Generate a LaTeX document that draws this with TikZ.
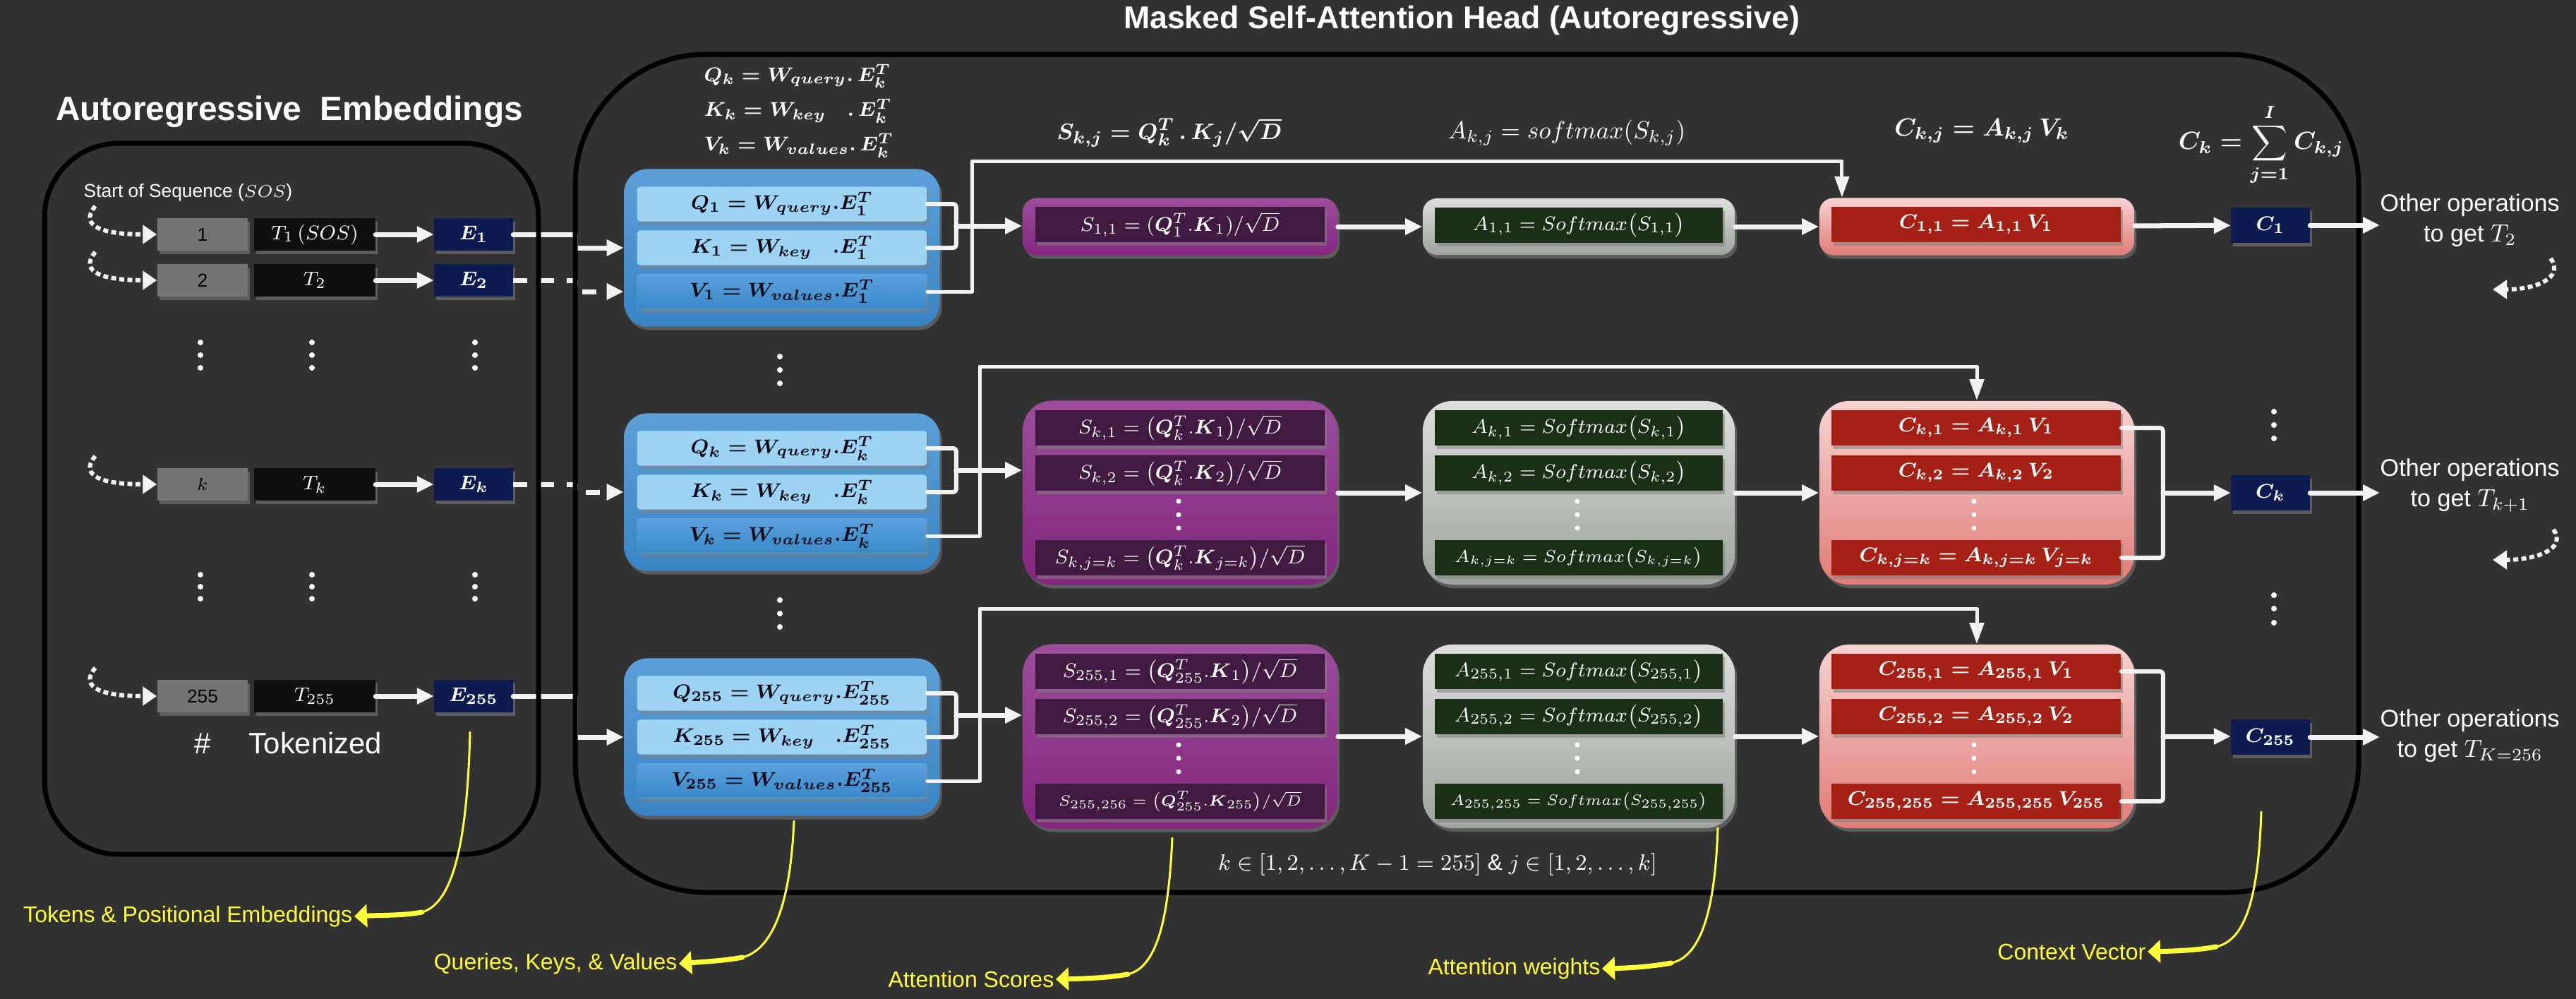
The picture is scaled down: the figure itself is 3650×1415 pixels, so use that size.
\documentclass[tikz,border=0pt]{standalone}
\usepackage{fontspec}
\setmainfont{Liberation Sans}
\usepackage{amsmath}
\usetikzlibrary{arrows.meta,positioning,shadows,calc}

\definecolor{bgdark}{HTML}{323232}
\definecolor{numgray}{HTML}{747474}
\definecolor{tokblack}{HTML}{0F0F0F}
\definecolor{embnavy}{HTML}{0C1C50}
\definecolor{flowwhite}{HTML}{F2F2F2}
\definecolor{qkvtop}{HTML}{5CA0D8}
\definecolor{qkvbot}{HTML}{3A84C4}
\definecolor{qklight}{HTML}{9DD4F3}
\definecolor{qkvtext}{HTML}{0A0A18}
\definecolor{vtop}{HTML}{5AA2DE}
\definecolor{vbot}{HTML}{3C88C8}
\definecolor{scoretop}{HTML}{9B4E9A}
\definecolor{scorebot}{HTML}{84257F}
\definecolor{scorein}{HTML}{401A41}
\definecolor{weighttop}{HTML}{DDDFDC}
\definecolor{weightbot}{HTML}{9EA39D}
\definecolor{weightin}{HTML}{1B2E16}
\definecolor{ctxtop}{HTML}{F7D3D2}
\definecolor{ctxbot}{HTML}{E07C77}
\definecolor{ctxin}{HTML}{A52116}
\definecolor{callyellow}{HTML}{FFFF3C}

\begin{document}
\begin{tikzpicture}[x=0.01cm, y=-0.01cm, line cap=round, line join=round,
    every node/.style={inner sep=0pt, text=white},
    panel/.style={draw=black, line width=0.07cm},
    boxshadow/.style={drop shadow={shadow xshift=0.03cm, shadow yshift=-0.05cm, opacity=0.55}},
    numbox/.style={boxshadow, fill=numgray, text=black, minimum width=1.28cm, minimum height=0.45cm, font=\fontsize{7.5}{9}\selectfont},
    tokbox/.style={boxshadow, fill=tokblack, minimum width=1.71cm, minimum height=0.45cm, font=\fontsize{8.5}{10}\selectfont},
    embbox/.style={boxshadow, fill=embnavy, minimum width=1.11cm, minimum height=0.45cm, font=\boldmath\fontsize{8.5}{10}\selectfont},
    ctxvec/.style={embbox, minimum height=0.49cm},
    qkvblock/.style={boxshadow, rounded corners=0.33cm, top color=qkvtop, bottom color=qkvbot, minimum width=4.47cm, minimum height=2.23cm},
    qkrow/.style={boxshadow, fill=qklight, rounded corners=0.04cm, minimum width=4.1cm, minimum height=0.49cm, text=qkvtext, font=\boldmath\fontsize{8.3}{10}\selectfont},
    vrow/.style={qkrow, top color=vtop, bottom color=vbot},
    scorebox/.style={boxshadow, rounded corners=0.2cm, top color=scoretop, bottom color=scorebot, minimum width=4.46cm},
    scorerow/.style={boxshadow, fill=scorein, minimum width=4.09cm, minimum height=0.5cm, font=\fontsize{8}{10}\selectfont},
    weightbox/.style={boxshadow, rounded corners=0.2cm, top color=weighttop, bottom color=weightbot, minimum width=4.42cm},
    weightrow/.style={boxshadow, fill=weightin, minimum width=4.08cm, minimum height=0.5cm, font=\fontsize{8}{10}\selectfont},
    ctxbox/.style={boxshadow, rounded corners=0.2cm, top color=ctxtop, bottom color=ctxbot, minimum width=4.46cm},
    ctxrow/.style={boxshadow, fill=ctxin, minimum width=4.1cm, minimum height=0.5cm, font=\boldmath\fontsize{8}{10}\selectfont},
    flow/.style={draw=flowwhite, line width=0.07cm, -{Triangle[length=0.24cm, width=0.22cm]}},
    dashflow/.style={flow, dash pattern=on 0.2cm off 0.18cm, line cap=butt},
    loopflow/.style={draw=flowwhite, line width=0.06cm, dash pattern=on 0.07cm off 0.045cm, line cap=butt, -{Triangle[length=0.2cm, width=0.26cm]}},
    bracket/.style={draw=flowwhite, line width=0.06cm, rounded corners=0.04cm},
    vflow/.style={draw=flowwhite, line width=0.05cm, -{Triangle[length=0.3cm, width=0.2cm]}},
    calloutline/.style={draw=callyellow, line width=0.03cm},
    callouttip/.style={draw=callyellow, line width=0.07cm, -{Triangle[length=0.18cm, width=0.32cm]}},
    calllabel/.style={text=callyellow, anchor=east, inner sep=0.02cm, font=\fontsize{9.1}{11}\selectfont},
    opslabel/.style={align=center, anchor=west, font=\fontsize{9.7}{12.2}\selectfont}]

  \fill[bgdark] (0,0) rectangle (3650,1415);
  \useasboundingbox (0,0) rectangle (3650,1415);

  % tokens and embeddings
  \node[font=\bfseries\fontsize{13.6}{16}\selectfont] (embtitle) at (410,158) {Autoregressive\ \ Embeddings};
  \node[anchor=west, font=\fontsize{7.5}{9}\selectfont] (soslabel) at (118,273) {Start of Sequence ($SOS$)};
  \node[numbox] (num1) at (287,332) {1};
  \node[tokbox] (tok1) at (446,332) {$T_1\,(SOS)$};
  \node[embbox] (emb1) at (671,332) {$E_1$};
  \node[numbox] (num2) at (287,397) {2};
  \node[tokbox] (tok2) at (446,397) {$T_2$};
  \node[embbox] (emb2) at (671,397) {$E_2$};
  \node[numbox] (numk) at (287,686) {$k$};
  \node[tokbox] (tokk) at (446,686) {$T_k$};
  \node[embbox] (embk) at (671,686) {$E_k$};
  \node[numbox] (num255) at (287,986) {255};
  \node[tokbox] (tok255) at (446,986) {$T_{255}$};
  \node[embbox] (emb255) at (671,986) {$E_{255}$};
  \node[font=\fontsize{11.9}{14}\selectfont] (hashlabel) at (287,1053) {\#};
  \node[font=\fontsize{11.9}{14}\selectfont] (toklabel) at (447,1053) {Tokenized};

  \coordinate (loop1) at (135,292);
  \coordinate (loop2) at (135,357);
  \coordinate (loopk) at (135,646);
  \coordinate (loop255) at (135,946);
  \draw[loopflow] (loop1) .. controls (110,322) and (150,332) .. (num1.west);
  \draw[loopflow] (loop2) .. controls (110,387) and (150,397) .. (num2.west);
  \draw[loopflow] (loopk) .. controls (110,676) and (150,686) .. (numk.west);
  \draw[loopflow] (loop255) .. controls (110,976) and (150,986) .. (num255.west);

  \draw[flow] (tok1) -- (emb1);
  \draw[flow] (tok2) -- (emb2);
  \draw[flow] (tokk) -- (embk);
  \draw[flow] (tok255) -- (emb255);

  \fill[white] (284,485) circle (4) (284,503) circle (4) (284,521) circle (4);
  \fill[white] (442,485) circle (4) (442,503) circle (4) (442,521) circle (4);
  \fill[white] (673,485) circle (4) (673,503) circle (4) (673,521) circle (4);
  \fill[white] (284,814) circle (4) (284,831) circle (4) (284,848) circle (4);
  \fill[white] (442,814) circle (4) (442,831) circle (4) (442,848) circle (4);
  \fill[white] (673,814) circle (4) (673,831) circle (4) (673,848) circle (4);

  % queries, keys and values
  \node[anchor=west, align=left, font=\boldmath\fontsize{8.5}{14}\selectfont] (qkvhead) at (997,157)
    {$Q_k = W_{query}.\,E_k^T$\\ $K_k = W_{key}\quad.\,E_k^T$\\ $V_k = W_{values}.\,E_k^T$};

  \node[qkvblock] (qkv1) at (1108,351) {};
  \node[qkrow] (q1) at (1108,289) {$Q_1 = W_{query}.E_1^T$};
  \node[qkrow] (k1) at (1108,351) {$K_1 = W_{key}\quad.E_1^T$};
  \node[vrow] (v1) at (1108,413) {$V_1 = W_{values}.E_1^T$};

  \node[qkvblock] (qkvk) at (1108,697) {};
  \node[qkrow] (qk) at (1108,635) {$Q_k = W_{query}.E_k^T$};
  \node[qkrow] (kk) at (1108,697) {$K_k = W_{key}\quad.E_k^T$};
  \node[vrow] (vk) at (1108,759) {$V_k = W_{values}.E_k^T$};

  \node[qkvblock] (qkv255) at (1108,1044) {};
  \node[qkrow] (q255) at (1108,982) {$Q_{255} = W_{query}.E_{255}^T$};
  \node[qkrow] (k255) at (1108,1044) {$K_{255} = W_{key}\quad.E_{255}^T$};
  \node[vrow] (v255) at (1108,1106) {$V_{255} = W_{values}.E_{255}^T$};

  \fill[white] (1105,505) circle (4) (1105,524) circle (4) (1105,543) circle (4);
  \fill[white] (1105,850) circle (4) (1105,869) circle (4) (1105,888) circle (4);

  \draw[flow] (emb1.east) -| (815,351) -- (qkv1.west);
  \draw[dashflow] (emb2.east) -| (815,413) -- (qkv1.west |- v1);
  \draw[dashflow] (embk.east) -| (815,697) -- (qkvk.west);
  \draw[flow] (emb255.east) -| (815,1044) -- (qkv255.west);

  % frames
  \draw[panel, rounded corners=1.05cm] (63,203) rectangle (763,1210);
  \draw[panel, rounded corners=1.85cm] (815,77) rectangle (3342,1264);
  \node[font=\bfseries\fontsize{12.7}{15}\selectfont] (headtitle) at (2071,29) {Masked Self-Attention Head (Autoregressive)};

  % attention scores
  \node[font=\boldmath\fontsize{9.5}{11}\selectfont] (scorehead) at (1657,188) {$S_{k,j} = Q_k^T\,.\,K_j/\sqrt{D}$};
  \node[scorebox, minimum height=0.81cm] (score1) at (1672,321) {};
  \node[scorerow] (s11) at (1672,318) {$S_{1,1} = (\boldsymbol{Q}_1^T.\boldsymbol{K}_1)/\sqrt{D}$};

  \node[scorebox, minimum height=2.61cm, rounded corners=0.42cm] (scorek) at (1672,698) {};
  \node[scorerow] (sk1) at (1672,606) {$S_{k,1} = \big(\boldsymbol{Q}_k^T.\boldsymbol{K}_1\big)/\sqrt{D}$};
  \node[scorerow] (sk2) at (1672,670) {$S_{k,2} = \big(\boldsymbol{Q}_k^T.\boldsymbol{K}_2\big)/\sqrt{D}$};
  \node[scorerow] (skk) at (1672,790) {$S_{k,j=k} = \big(\boldsymbol{Q}_k^T.\boldsymbol{K}_{j=k}\big)/\sqrt{D}$};
  \fill[white] (1670,710) circle (3.5) (1670,729) circle (3.5) (1670,748) circle (3.5);

  \node[scorebox, minimum height=2.61cm, rounded corners=0.42cm] (score255) at (1672,1043) {};
  \node[scorerow] (s2551) at (1672,951) {$S_{255,1} = \big(\boldsymbol{Q}_{255}^T.\boldsymbol{K}_1\big)/\sqrt{D}$};
  \node[scorerow] (s2552) at (1672,1015) {$S_{255,2} = \big(\boldsymbol{Q}_{255}^T.\boldsymbol{K}_2\big)/\sqrt{D}$};
  \node[scorerow, font=\fontsize{6.5}{8}\selectfont] (s255256) at (1672,1135) {$S_{255,256} = \big(\boldsymbol{Q}_{255}^T.\boldsymbol{K}_{255}\big)/\sqrt{D}$};
  \fill[white] (1670,1055) circle (3.5) (1670,1074) circle (3.5) (1670,1093) circle (3.5);

  \draw[bracket] (q1.east) -- ++(41,0) |- (k1.east);
  \draw[bracket] (qk.east) -- ++(41,0) |- (kk.east);
  \draw[bracket] (q255.east) -- ++(41,0) |- (k255.east);
  \coordinate (qkmid1) at ($(q1.east)!0.5!(k1.east)+(41,0)$);
  \coordinate (qkmidk) at ($(qk.east)!0.5!(kk.east)+(41,0)$);
  \coordinate (qkmid255) at ($(q255.east)!0.5!(k255.east)+(41,0)$);
  \draw[flow] (qkmid1) -- (qkmid1 -| score1.west);
  \draw[flow] (qkmidk) -- (qkmidk -| scorek.west);
  \draw[flow] (qkmid255) -- (qkmid255 -| score255.west);

  % attention weights
  \node[font=\fontsize{10}{12}\selectfont] (weighthead) at (2220,188) {$A_{k,j} = softmax(S_{k,j})$};
  \node[weightbox, minimum height=0.8cm] (weight1) at (2237,321) {};
  \node[weightrow] (a11) at (2237,319) {$A_{1,1} = Softmax\big(S_{1,1}\big)$};

  \node[weightbox, minimum height=2.6cm, rounded corners=0.42cm] (weightk) at (2237,698) {};
  \node[weightrow] (ak1) at (2237,606) {$A_{k,1} = Softmax\big(S_{k,1}\big)$};
  \node[weightrow] (ak2) at (2237,670) {$A_{k,2} = Softmax\big(S_{k,2}\big)$};
  \node[weightrow, font=\fontsize{7}{8}\selectfont] (akk) at (2237,790) {$A_{k,j=k} = Softmax\big(S_{k,j=k}\big)$};
  \fill[white] (2235,710) circle (3.5) (2235,729) circle (3.5) (2235,748) circle (3.5);

  \node[weightbox, minimum height=2.6cm, rounded corners=0.42cm] (weight255) at (2237,1043) {};
  \node[weightrow] (a2551) at (2237,951) {$A_{255,1} = Softmax\big(S_{255,1}\big)$};
  \node[weightrow] (a2552) at (2237,1015) {$A_{255,2} = Softmax\big(S_{255,2}\big)$};
  \node[weightrow, font=\fontsize{6}{7}\selectfont] (a255255) at (2237,1135) {$A_{255,255} = Softmax\big(S_{255,255}\big)$};
  \fill[white] (2235,1055) circle (3.5) (2235,1074) circle (3.5) (2235,1093) circle (3.5);

  \draw[flow] (score1) -- (weight1);
  \draw[flow] (scorek) -- (weightk);
  \draw[flow] (score255) -- (weight255);

  % context
  \node[font=\boldmath\fontsize{10}{12}\selectfont] (ctxhead) at (2808,185) {$C_{k,j} = A_{k,j}\,V_k$};
  \node[font=\boldmath\fontsize{10}{12}\selectfont] (sumhead) at (3204,205) {$\displaystyle C_k = \sum_{j=1}^{I} C_{k,j}$};
  \node[ctxbox, minimum height=0.81cm] (ctx1) at (2801,321) {};
  \node[ctxrow] (c11) at (2800,318) {$C_{1,1} = A_{1,1}\,V_1$};

  \node[ctxbox, minimum height=2.6cm, rounded corners=0.42cm] (ctxk) at (2801,698) {};
  \node[ctxrow] (ck1) at (2800,606) {$C_{k,1} = A_{k,1}\,V_1$};
  \node[ctxrow] (ck2) at (2800,670) {$C_{k,2} = A_{k,2}\,V_2$};
  \node[ctxrow] (ckk) at (2800,790) {$C_{k,j=k} = A_{k,j=k}\,V_{j=k}$};
  \fill[white] (2797,710) circle (3.5) (2797,729) circle (3.5) (2797,748) circle (3.5);

  \node[ctxbox, minimum height=2.6cm, rounded corners=0.42cm] (ctx255) at (2801,1043) {};
  \node[ctxrow] (c2551) at (2800,951) {$C_{255,1} = A_{255,1}\,V_1$};
  \node[ctxrow] (c2552) at (2800,1015) {$C_{255,2} = A_{255,2}\,V_2$};
  \node[ctxrow] (c255255) at (2800,1135) {$C_{255,255} = A_{255,255}\,V_{255}$};
  \fill[white] (2797,1055) circle (3.5) (2797,1074) circle (3.5) (2797,1093) circle (3.5);

  \draw[flow] (weight1) -- (ctx1);
  \draw[flow] (weightk) -- (ctxk);
  \draw[flow] (weight255) -- (ctx255);

  \draw[vflow] (v1.east) -| (1377,228) -| ([xshift=-1.91cm]ctx1.north);
  \draw[vflow] (vk.east) -| (1388,519) -| (ctxk.north);
  \draw[vflow] (v255.east) -| (1388,862) -| (ctx255.north);

  \node[ctxvec] (cv1) at (3217,319) {$C_1$};
  \node[ctxvec] (cvk) at (3217,698) {$C_k$};
  \node[ctxvec] (cv255) at (3217,1044) {$C_{255}$};
  \fill[white] (3222,583) circle (4) (3222,602) circle (4) (3222,621) circle (4);
  \fill[white] (3222,843) circle (4) (3222,862) circle (4) (3222,882) circle (4);

  \draw[flow] (ctx1) -- (cv1);
  \draw[bracket] (ck1.east) -- ++(59,0) |- (ckk.east);
  \draw[bracket] (c2551.east) -- ++(59,0) |- (c255255.east);
  \coordinate (cmidk) at ($(ck1.east)!0.5!(ckk.east)+(59,0)$);
  \coordinate (cmid255) at ($(c2551.east)!0.5!(c255255.east)+(59,0)$);
  \draw[flow] (cmidk) -- (cmidk -| cvk.west);
  \draw[flow] (cmid255) -- (cmid255 -| cv255.west);

  % next steps
  \node[opslabel] (ops1) at (3372,312) {Other operations\\to get $T_2$};
  \node[opslabel] (opsk) at (3372,688) {Other operations\\to get $T_{k+1}$};
  \node[opslabel] (ops255) at (3372,1042) {Other operations\\to get $T_{K=256}$};
  \draw[flow] (cv1) -- (cv1 -| ops1.west);
  \draw[flow] (cvk) -- (cvk -| opsk.west);
  \draw[flow] (cv255) -- (cv255 -| ops255.west);
  \coordinate (back1) at (3614,366);
  \coordinate (backk) at (3618,750);
  \draw[loopflow] (back1) .. controls (3634,394) and (3592,410) .. (3532,410);
  \draw[loopflow] (backk) .. controls (3638,778) and (3592,793) .. (3532,793);

  \node[font=\fontsize{9}{11}\selectfont] (rangelabel) at (2037,1225) {$k \in [1,2,\dots,K-1=255]\ \&\ j \in [1,2,\dots,k]$};

  % callouts
  \node[calllabel] (lbltok) at (502,1298) {Tokens \& Positional Embeddings};
  \node[calllabel] (lblqkv) at (962,1365) {Queries, Keys, \& Values};
  \node[calllabel] (lblscore) at (1496,1387) {Attention Scores};
  \node[calllabel] (lblweight) at (2270,1372) {Attention weights};
  \node[calllabel] (lblctx) at (3043,1348) {Context Vector};
  \coordinate (tokfoot) at (666,1037);
  \coordinate (qkvfoot) at (1125,1163);
  \coordinate (scorefoot) at (1661,1187);
  \coordinate (weightfoot) at (2434,1173);
  \coordinate (ctxfoot) at (3204,1150);
  \coordinate (tokbend) at (598,1292);
  \coordinate (qkvbend) at (1052,1356);
  \coordinate (scorebend) at (1598,1380);
  \coordinate (weightbend) at (2368,1364);
  \coordinate (ctxbend) at (3140,1341);
  \draw[calloutline] (tokfoot) .. controls (662,1200) and (640,1280) .. (tokbend);
  \draw[calloutline] (qkvfoot) .. controls (1120,1280) and (1095,1345) .. (qkvbend);
  \draw[calloutline] (scorefoot) .. controls (1656,1300) and (1640,1370) .. (scorebend);
  \draw[calloutline] (weightfoot) .. controls (2430,1290) and (2410,1355) .. (weightbend);
  \draw[calloutline] (ctxfoot) .. controls (3200,1270) and (3182,1332) .. (ctxbend);
  \draw[callouttip] (tokbend) .. controls (570,1297) and (545,1296) .. (lbltok.east);
  \draw[callouttip] (qkvbend) .. controls (1024,1361) and (1000,1362) .. (lblqkv.east);
  \draw[callouttip] (scorebend) .. controls (1570,1385) and (1540,1386) .. (lblscore.east);
  \draw[callouttip] (weightbend) .. controls (2340,1369) and (2312,1371) .. (lblweight.east);
  \draw[callouttip] (ctxbend) .. controls (3112,1346) and (3085,1347) .. (lblctx.east);
\end{tikzpicture}
\end{document}
